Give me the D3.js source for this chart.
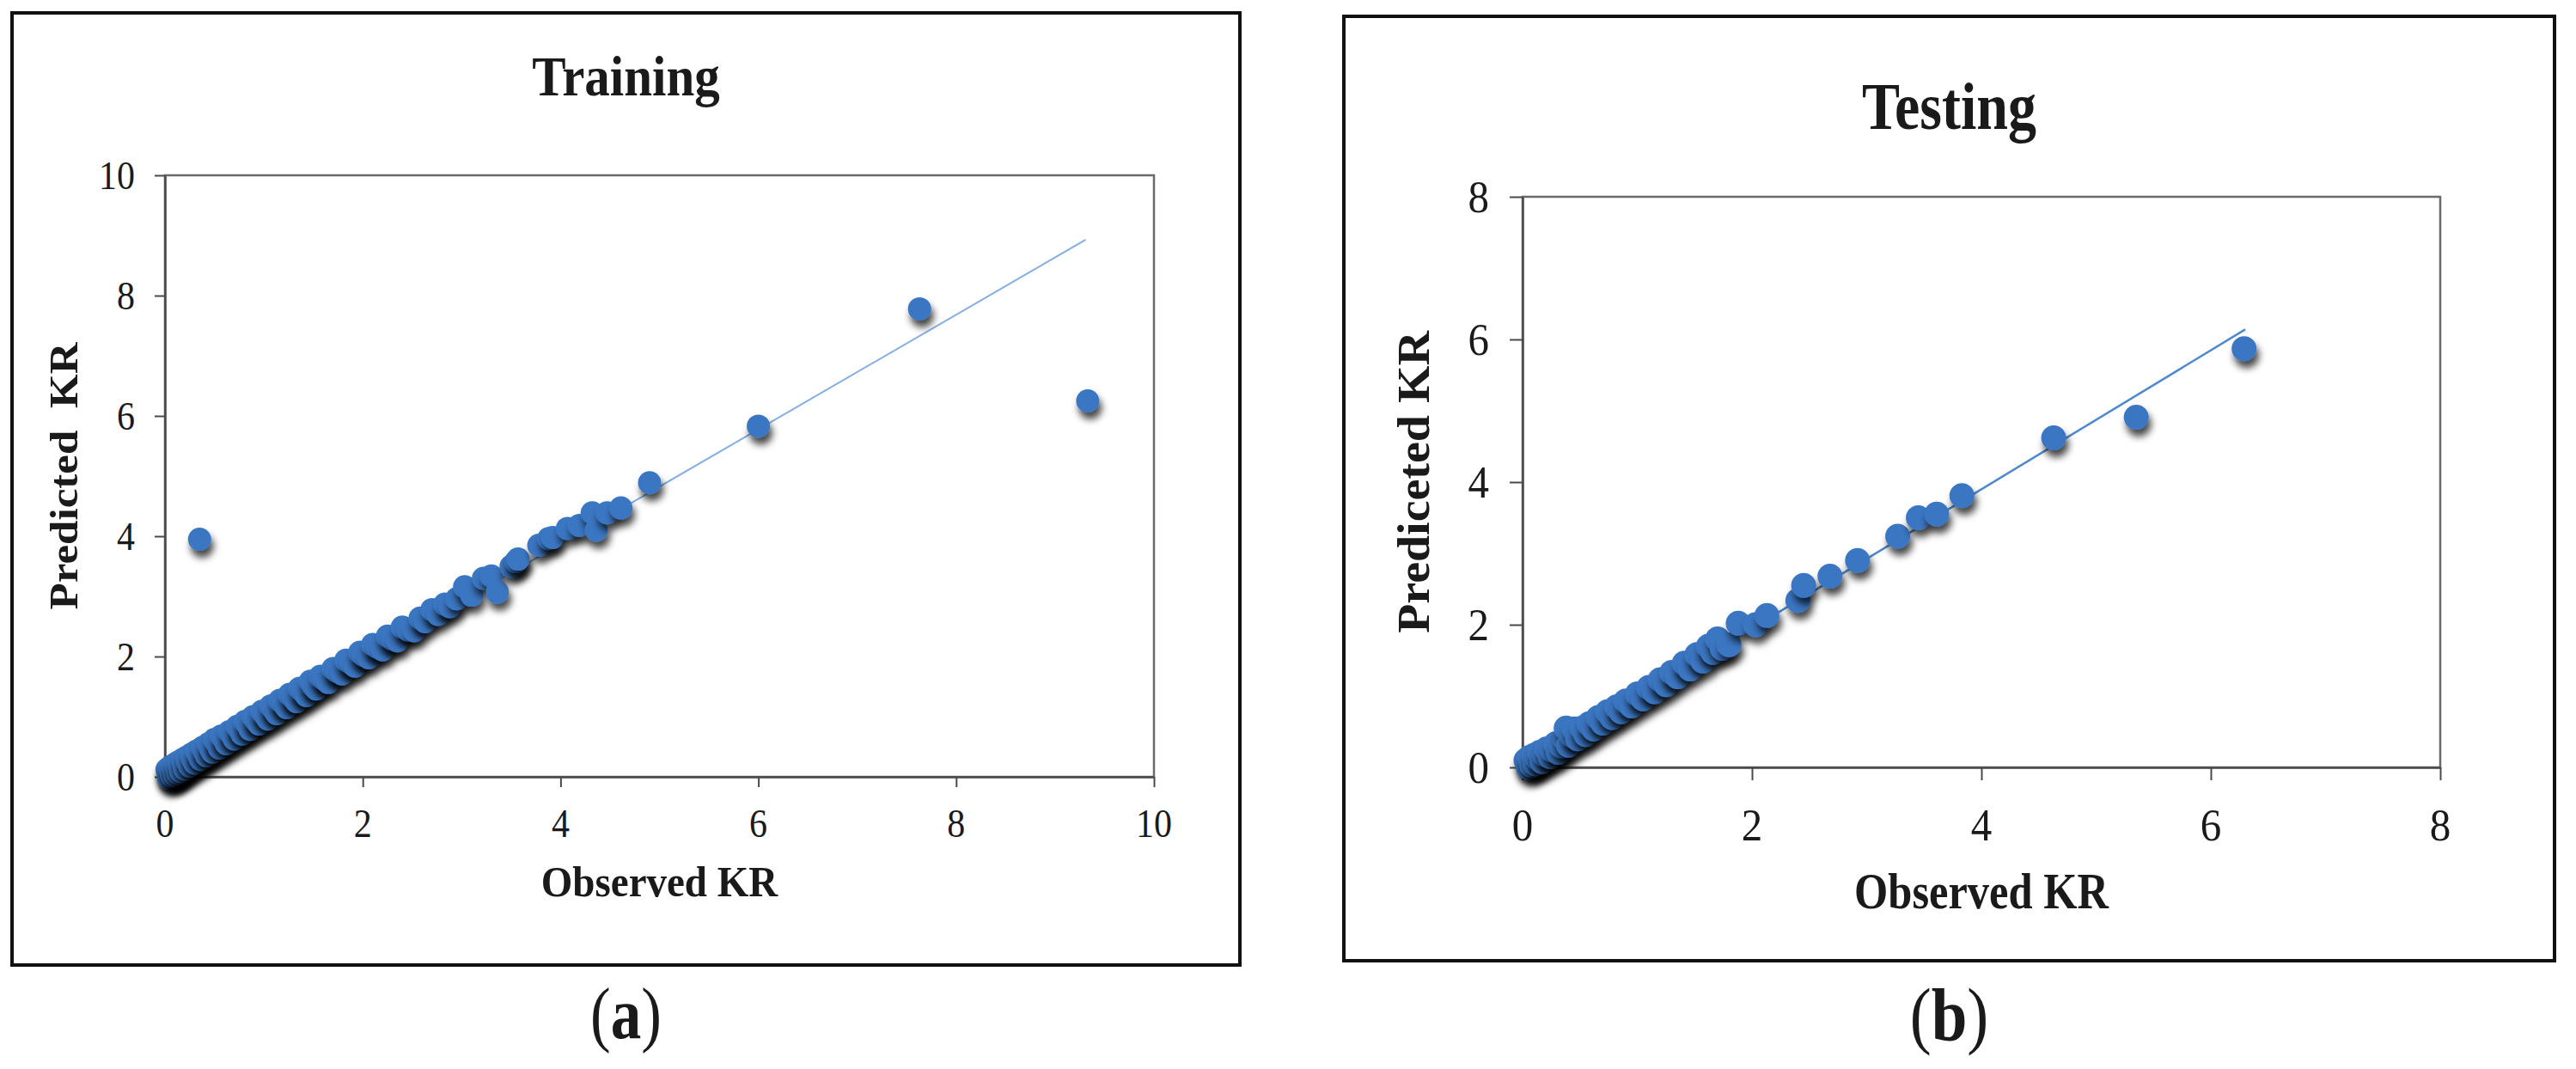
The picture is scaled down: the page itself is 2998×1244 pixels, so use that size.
<!DOCTYPE html>
<html>
<head>
<meta charset="utf-8">
<script src="https://cdnjs.cloudflare.com/ajax/libs/d3/7.8.5/d3.min.js"></script>
<style>
    html, body { margin: 0; padding: 0; background: #fff; }
    svg { display: block; }
    text { font-family: "Times New Roman", "Liberation Serif", serif; fill: #1a1a1a; white-space: pre; }
</style>
</head>
<body>
<svg id="chart" width="2998" height="1244"></svg>
<script>
// Training set (a)
var trainObserved = [
    0.02, 0.03, 0.04, 0.05, 0.06, 0.07, 0.08, 0.09, 0.10, 0.11,
    0.12, 0.13, 0.14, 0.15, 0.16, 0.18, 0.19, 0.20, 0.22, 0.23,
    0.25, 0.27, 0.28, 0.30, 0.32, 0.34, 0.36, 0.38, 0.40, 0.42,
    0.44, 0.46, 0.48, 0.50, 0.53, 0.55, 0.57, 0.60, 0.62, 0.65,
    0.68, 0.70, 0.73, 0.76, 0.78, 0.81, 0.84, 0.86, 0.89, 0.92,
    0.95, 0.98, 1.01, 1.04, 1.07, 1.10, 1.13, 1.16, 1.20, 1.23,
    1.26, 1.30, 1.33, 1.36, 1.40, 1.43, 1.47, 1.50, 1.53, 1.57,
    1.61, 1.65, 1.70, 1.74, 1.79, 1.83, 1.88, 1.92, 1.97, 2.01,
    2.06, 2.10, 2.15, 2.20, 2.25, 2.30, 2.35, 2.40, 2.46, 2.52,
    2.58, 2.63, 2.70, 2.76, 2.83, 2.88, 2.95, 3.03, 3.10, 3.22,
    3.30, 3.36, 3.50, 3.55, 3.57, 3.78, 3.88, 3.92, 4.07, 4.19,
    4.32, 4.36, 4.47, 4.61, 4.90, 6.00, 7.63, 9.33, 0.35
];
var trainPredicted = [
    0.12, 0.06, -0.02, 0.16, 0.09, 0.01, 0.19, 0.11, 0.03, 0.22,
    0.14, 0.06, 0.25, 0.17, 0.09, 0.29, 0.21, 0.13, 0.33, 0.25,
    0.18, 0.38, 0.30, 0.23, 0.43, 0.36, 0.29, 0.49, 0.42, 0.35,
    0.55, 0.48, 0.41, 0.62, 0.55, 0.48, 0.68, 0.62, 0.55, 0.75,
    0.70, 0.63, 0.84, 0.78, 0.71, 0.92, 0.86, 0.79, 1.00, 0.94,
    0.88, 1.09, 1.03, 0.96, 1.18, 1.12, 1.05, 1.27, 1.22, 1.15,
    1.37, 1.31, 1.25, 1.47, 1.41, 1.35, 1.59, 1.51, 1.46, 1.67,
    1.62, 1.57, 1.80, 1.75, 1.71, 1.94, 1.89, 1.84, 2.07, 2.02,
    1.98, 2.20, 2.15, 2.11, 2.34, 2.29, 2.26, 2.49, 2.44, 2.43,
    2.64, 2.58, 2.78, 2.70, 2.87, 2.83, 2.96, 3.16, 3.02, 3.30,
    3.34, 3.07, 3.50, 3.58, 3.62, 3.85, 3.96, 3.98, 4.13, 4.18,
    4.39, 4.10, 4.39, 4.47, 4.89, 5.83, 7.78, 6.25, 3.95
];
var trainTrendX = [0.02, 9.31];
var trainTrendY = [0.08, 8.93];
var trainTicks = [0, 2, 4, 6, 8, 10];

// Testing set (b)
var testObserved = [
    0.03, 0.05, 0.06, 0.08, 0.10, 0.11, 0.13, 0.15, 0.17, 0.19,
    0.21, 0.24, 0.26, 0.29, 0.31, 0.34, 0.37, 0.38, 0.40, 0.43,
    0.45, 0.48, 0.52, 0.55, 0.58, 0.62, 0.66, 0.70, 0.74, 0.78,
    0.82, 0.86, 0.90, 0.95, 1.00, 1.05, 1.10, 1.15, 1.20, 1.25,
    1.30, 1.35, 1.41, 1.46, 1.52, 1.57, 1.62, 1.66, 1.70, 1.74,
    1.80, 1.88, 2.03, 2.13, 2.40, 2.45, 2.68, 2.92, 3.27, 3.45,
    3.61, 3.83, 4.63, 5.35, 6.29
];
var testPredicted = [
    0.10, 0.00, 0.14, 0.03, 0.17, 0.05, 0.13, 0.21, 0.08, 0.18,
    0.26, 0.15, 0.24, 0.33, 0.21, 0.30, 0.40, 0.55, 0.31, 0.45,
    0.54, 0.40, 0.55, 0.46, 0.61, 0.54, 0.70, 0.62, 0.78, 0.70,
    0.85, 0.78, 0.93, 0.86, 1.03, 0.96, 1.12, 1.06, 1.23, 1.16,
    1.33, 1.27, 1.46, 1.38, 1.58, 1.49, 1.70, 1.61, 1.80, 1.67,
    1.72, 2.02, 2.00, 2.13, 2.34, 2.55, 2.68, 2.90, 3.24, 3.50,
    3.55, 3.81, 4.62, 4.91, 5.87
];
var testTrendX = [0.03, 6.30];
var testTrendY = [0.03, 6.14];
var testTicks = [0, 2, 4, 6, 8];

var markerColor = '#3a76c2';

var svg = d3.select('#chart');

var defs = svg.append('defs');
var shadow = defs.append('filter')
    .attr('id', 'shadow')
    .attr('x', '-60%').attr('y', '-60%')
    .attr('width', '240%').attr('height', '280%');
shadow.append('feDropShadow')
    .attr('dx', 3).attr('dy', 8)
    .attr('stdDeviation', 4)
    .attr('flood-color', '#000')
    .attr('flood-opacity', 0.72);

// text with a vertical stretch, the source figure is slightly tall
function addText(g, str, x, y, size, opts) {
    opts = opts || {};
    var tf = 'translate(' + x + ',' + y + ') scale(1,' + (opts.sy || 1) + ')';
    if (opts.rotate) {
        tf += ' rotate(-90)';
    }
    return g.append('text')
        .attr('transform', tf)
        .attr('text-anchor', opts.anchor || 'middle')
        .attr('dy', opts.dy || 0)
        .style('font-size', size + 'px')
        .style('font-weight', opts.bold ? 'bold' : 'normal')
        .text(str);
}

function drawPanel(p) {
    var g = svg.append('g');

    g.append('rect')
        .attr('x', p.box[0]).attr('y', p.box[1])
        .attr('width', p.box[2]).attr('height', p.box[3])
        .attr('fill', 'none')
        .attr('stroke', '#111')
        .attr('stroke-width', 4);

    var x = d3.scaleLinear().domain([0, p.max]).range([p.left, p.right]),
        y = d3.scaleLinear().domain([0, p.max]).range([p.bottom, p.top]);

    g.append('rect')
        .attr('x', p.left).attr('y', p.top)
        .attr('width', p.right - p.left).attr('height', p.bottom - p.top)
        .attr('fill', 'none')
        .attr('stroke', '#6a6a6a')
        .attr('stroke-width', 2.5);

    var xAxis = d3.axisBottom(x).tickValues(p.ticks).tickSize(p.tickLen).tickSizeOuter(0).tickFormat(''),
        yAxis = d3.axisLeft(y).tickValues(p.ticks).tickSize(p.tickLen).tickSizeOuter(0).tickFormat('');

    var gx = g.append('g').attr('transform', 'translate(0,' + p.bottom + ')').call(xAxis),
        gy = g.append('g').attr('transform', 'translate(' + p.left + ',0)').call(yAxis);
    [gx, gy].forEach(function(a) {
        a.select('.domain').attr('stroke', '#4a4a4a').attr('stroke-width', 2.5);
        a.selectAll('.tick line').attr('stroke', '#4a4a4a').attr('stroke-width', 2);
    });

    p.ticks.forEach(function(t) {
        addText(g, String(t), x(t), p.xLabelY, p.tickFont, {sy: p.tickSy, dy: '0.34em'});
        addText(g, String(t), p.yLabelX, y(t), p.tickFont, {sy: p.tickSy, dy: '0.34em', anchor: 'end'});
    });

    // trend line
    var line = d3.line()
        .x(function(d) { return x(d[0]); })
        .y(function(d) { return y(d[1]); });
    g.append('path')
        .attr('d', line(d3.zip(p.trendX, p.trendY)))
        .attr('fill', 'none')
        .attr('stroke', p.trendColor)
        .attr('stroke-width', p.trendWidth);

    g.append('g').selectAll('circle')
        .data(d3.zip(p.observed, p.predicted))
        .join('circle')
        .attr('cx', function(d) { return x(d[0]); })
        .attr('cy', function(d) { return y(d[1]); })
        .attr('r', p.r)
        .attr('fill', markerColor)
        .attr('filter', 'url(#shadow)');

    var cx = p.box[0] + p.box[2] / 2;
    addText(g, p.title, cx, p.titleY, p.titleFont, {bold: true, sy: p.titleSy});
    addText(g, 'Observed KR', (p.left + p.right) / 2, p.xTitleY, p.axisFont, {bold: true, sy: p.xTitleSy});
    addText(g, p.yTitle, p.yTitleX, (p.top + p.bottom) / 2, p.yTitleFont, {bold: true, sy: p.yTitleSy, rotate: true});

    var cap = g.append('text')
        .attr('transform', 'translate(' + cx + ',' + p.capY + ') scale(1,' + p.capSy + ')')
        .attr('text-anchor', 'middle')
        .style('font-size', p.capFont + 'px');
    cap.append('tspan').text('(');
    cap.append('tspan').style('font-weight', 'bold').text(p.cap);
    cap.append('tspan').text(')');
}

drawPanel({
    box: [14, 15, 1429, 1108],
    left: 192, right: 1343, top: 204, bottom: 904, max: 10,
    ticks: trainTicks, tickLen: 12,
    tickFont: 42, tickSy: 1.12, xLabelY: 958, yLabelX: 157,
    observed: trainObserved, predicted: trainPredicted, r: 13.5,
    trendX: trainTrendX, trendY: trainTrendY, trendColor: '#86aee0', trendWidth: 2,
    title: 'Training', titleY: 111, titleFont: 59, titleSy: 1.1,
    axisFont: 47, xTitleY: 1043, xTitleSy: 1.06,
    yTitle: 'Predicted  KR', yTitleX: 90, yTitleFont: 47, yTitleSy: 1.087,
    cap: 'a', capY: 1208, capFont: 71, capSy: 1.19
});

drawPanel({
    box: [1564, 19, 1409, 1099],
    left: 1772, right: 2840, top: 229, bottom: 893, max: 8,
    ticks: testTicks, tickLen: 15,
    tickFont: 49, tickSy: 1.06, xLabelY: 960, yLabelX: 1733,
    observed: testObserved, predicted: testPredicted, r: 14.5,
    trendX: testTrendX, trendY: testTrendY, trendColor: '#4f88cc', trendWidth: 2.5,
    title: 'Testing', titleY: 150, titleFont: 66, titleSy: 1.2,
    axisFont: 50.5, xTitleY: 1057, xTitleSy: 1.17,
    yTitle: 'Prediceted KR', yTitleX: 1663, yTitleFont: 53, yTitleSy: 1.056,
    cap: 'b', capY: 1210, capFont: 75, capSy: 1.15
});
</script>
</body>
</html>
